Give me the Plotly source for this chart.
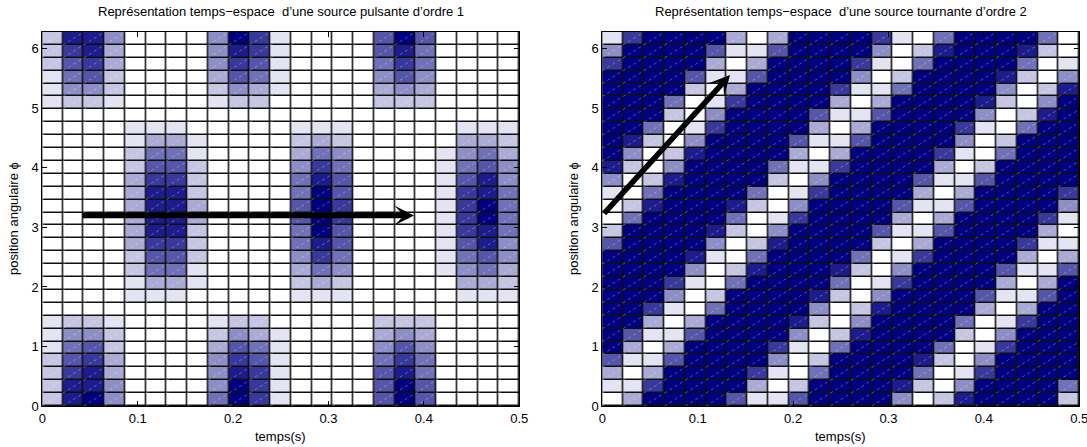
import numpy as np
import plotly.graph_objects as go

W, H = 1087, 447

# grid (cell edges) : 23 time steps over 0..0.5 s, 29 angular steps over 0..2pi
t_edges = np.linspace(0.0, 0.5, 24)
phi_edges = np.linspace(0.0, 2 * np.pi, 30)

x_tickvals = [0, 0.1, 0.2, 0.3, 0.4, 0.5]
x_ticktext = ["0", "0.1", "0.2", "0.3", "0.4", "0.5"]
y_tickvals = [0, 1, 2, 3, 4, 5, 6]
y_ticktext = ["0", "1", "2", "3", "4", "5", "6"]

# cell intensities, 0 = white ... 9 = navy ; first string = bottom row (phi = 0)
pulsante_rows = [
    "28940000597100006960000",
    "28840000497100006960000",
    "27830000487100006850000",
    "26730000476100005750000",
    "15620000365100004640000",
    "14420000243100003430000",
    "12210000122000002220000",
    "00000000000000000000000",
    "00001110000011100000111",
    "00001331000023200000332",
    "00002551000035400001453",
    "00002662000047500001564",
    "00003772000058600001684",
    "00003882000059600001785",
    "00003883000069700001795",
    "00003883000069700001795",
    "00003882000059600001785",
    "00003772000058600001684",
    "00002662000047500001564",
    "00002551000035400001453",
    "00001331000023200000332",
    "00001110000011100000111",
    "00000000000000000000000",
    "12210000122000002220000",
    "14420000243100003430000",
    "15620000365100004640000",
    "26730000476100005750000",
    "27830000487100006850000",
    "28840000497100006960000",
]

tournante_rows = [
    "03999961169999402899992",
    "11799993029999820499995",
    "30399997105999950179999",
    "61169999402999982049999",
    "93039999710599995017999",
    "96116999940289999204999",
    "99303999982049999501799",
    "99710599994028999930399",
    "99940299998204999961169",
    "99971059999501799993039",
    "99994028999820499996116",
    "99998105999950179999303",
    "69999402899992039999711",
    "29999820499996116999930",
    "05999950179999303999971",
    "02899982049999611699994",
    "10599995017999930399997",
    "40289999204999961169999",
    "82049999511799993029999",
    "94028999930399997105999",
    "98204999961169999402999",
    "99501799993039999710599",
    "99920499996116999940289",
    "99950179999303999982049",
    "99992039999711599994028",
    "99996116999940299998204",
    "79999303999971059999501",
    "49999611699994028999820",
    "17999930399997105999950",
]

# arrows (tail t, tail phi, head t, head phi)
arrow_pulsante = [0.0406, 3.20, 0.3896, 3.20]
arrow_tournante = [0.0005, 3.21, 0.1339, 5.56]

title_left = "Représentation temps−espace  d’une source pulsante d’ordre 1"
title_right = "Représentation temps−espace  d’une source tournante d’ordre 2"
xlabel = "temps(s)"
ylabel = "position angulaire ϕ"

FONT = "Liberation Sans, Arial, Helvetica, sans-serif"
FS = 13
colorscale = [[0.0, "rgb(255,255,255)"], [1.0, "rgb(0,0,128)"]]


def to_z(rows):
    return [[int(ch) for ch in r] for r in rows]


def px(x):
    return x / W


def py(y):
    return 1 - y / H


left_px = (42.3, 519.3)
right_px = (602.3, 1079.3)
top_px, bot_px = 32.0, 406.0

fig = go.Figure()


def diag_trace(xa, ya):
    xs, ys = [], []
    for i in range(len(t_edges) - 1):
        for j in range(len(phi_edges) - 1):
            xs += [t_edges[i], t_edges[i + 1], None]
            ys += [phi_edges[j], phi_edges[j + 1], None]
    return go.Scatter(x=xs, y=ys, mode="lines", xaxis=xa, yaxis=ya,
                      line=dict(color="rgba(255,255,255,0.45)", width=0.7, dash="dot"),
                      hoverinfo="skip", showlegend=False)


for rows, xa, ya in [(pulsante_rows, "x", "y"), (tournante_rows, "x2", "y2")]:
    fig.add_trace(go.Heatmap(x=t_edges, y=phi_edges, z=to_z(rows), zmin=0, zmax=9,
                             colorscale=colorscale, showscale=False, xgap=1.5, ygap=1.5,
                             xaxis=xa, yaxis=ya, hoverinfo="skip"))
    fig.add_trace(diag_trace(xa, ya))

axis_common = dict(showline=True, linecolor="black", linewidth=1, mirror="ticks",
                   ticks="inside", ticklen=5, tickcolor="black", showgrid=False,
                   zeroline=False, ticklabeloverflow="allow",
                   tickfont=dict(family=FONT, size=FS, color="black"))

fig.update_layout(
    width=W, height=H,
    margin=dict(l=0, r=0, t=0, b=0, autoexpand=False),
    paper_bgcolor="white", plot_bgcolor="rgb(15,15,15)",
    showlegend=False,
    xaxis=dict(domain=[px(left_px[0]), px(left_px[1])], range=[0, 0.5], anchor="y",
               tickvals=x_tickvals, ticktext=x_ticktext, **axis_common),
    yaxis=dict(domain=[py(bot_px), py(top_px)], range=[0, 2 * np.pi], anchor="x",
               tickvals=y_tickvals, ticktext=y_ticktext, **axis_common),
    xaxis2=dict(domain=[px(right_px[0]), px(right_px[1])], range=[0, 0.5], anchor="y2",
                tickvals=x_tickvals, ticktext=x_ticktext, **axis_common),
    yaxis2=dict(domain=[py(bot_px), py(top_px)], range=[0, 2 * np.pi], anchor="x2",
                tickvals=y_tickvals, ticktext=y_ticktext, **axis_common),
)

ann = []
for (l, r), title in [(left_px, title_left), (right_px, title_right)]:
    cx = (l + r) / 2
    ann.append(dict(text=title, x=px(cx), y=py(11), xref="paper", yref="paper",
                    showarrow=False, xanchor="center", yanchor="middle",
                    font=dict(family=FONT, size=FS, color="black")))
    ann.append(dict(text=xlabel, x=px(cx), y=py(436), xref="paper", yref="paper",
                    showarrow=False, xanchor="center", yanchor="middle",
                    font=dict(family=FONT, size=FS, color="black")))
for xl in [13, 573]:
    ann.append(dict(text=ylabel, x=px(xl), y=py((top_px + bot_px) / 2), xref="paper",
                    yref="paper", showarrow=False, textangle=-90, xanchor="center",
                    yanchor="middle", font=dict(family=FONT, size=FS, color="black")))

for arr, xa, ya in [(arrow_pulsante, "x", "y"), (arrow_tournante, "x2", "y2")]:
    ann.append(dict(x=arr[2], y=arr[3], ax=arr[0], ay=arr[1], xref=xa, yref=ya,
                    axref=xa, ayref=ya, text="", showarrow=True, arrowhead=3,
                    arrowsize=0.6, arrowwidth=5.5, arrowcolor="black", standoff=0))

fig.update_layout(annotations=ann)
fig.write_html("out.html", config={"displayModeBar": False},
               post_script="document.body.style.margin='0';document.body.style.overflow='hidden';")
